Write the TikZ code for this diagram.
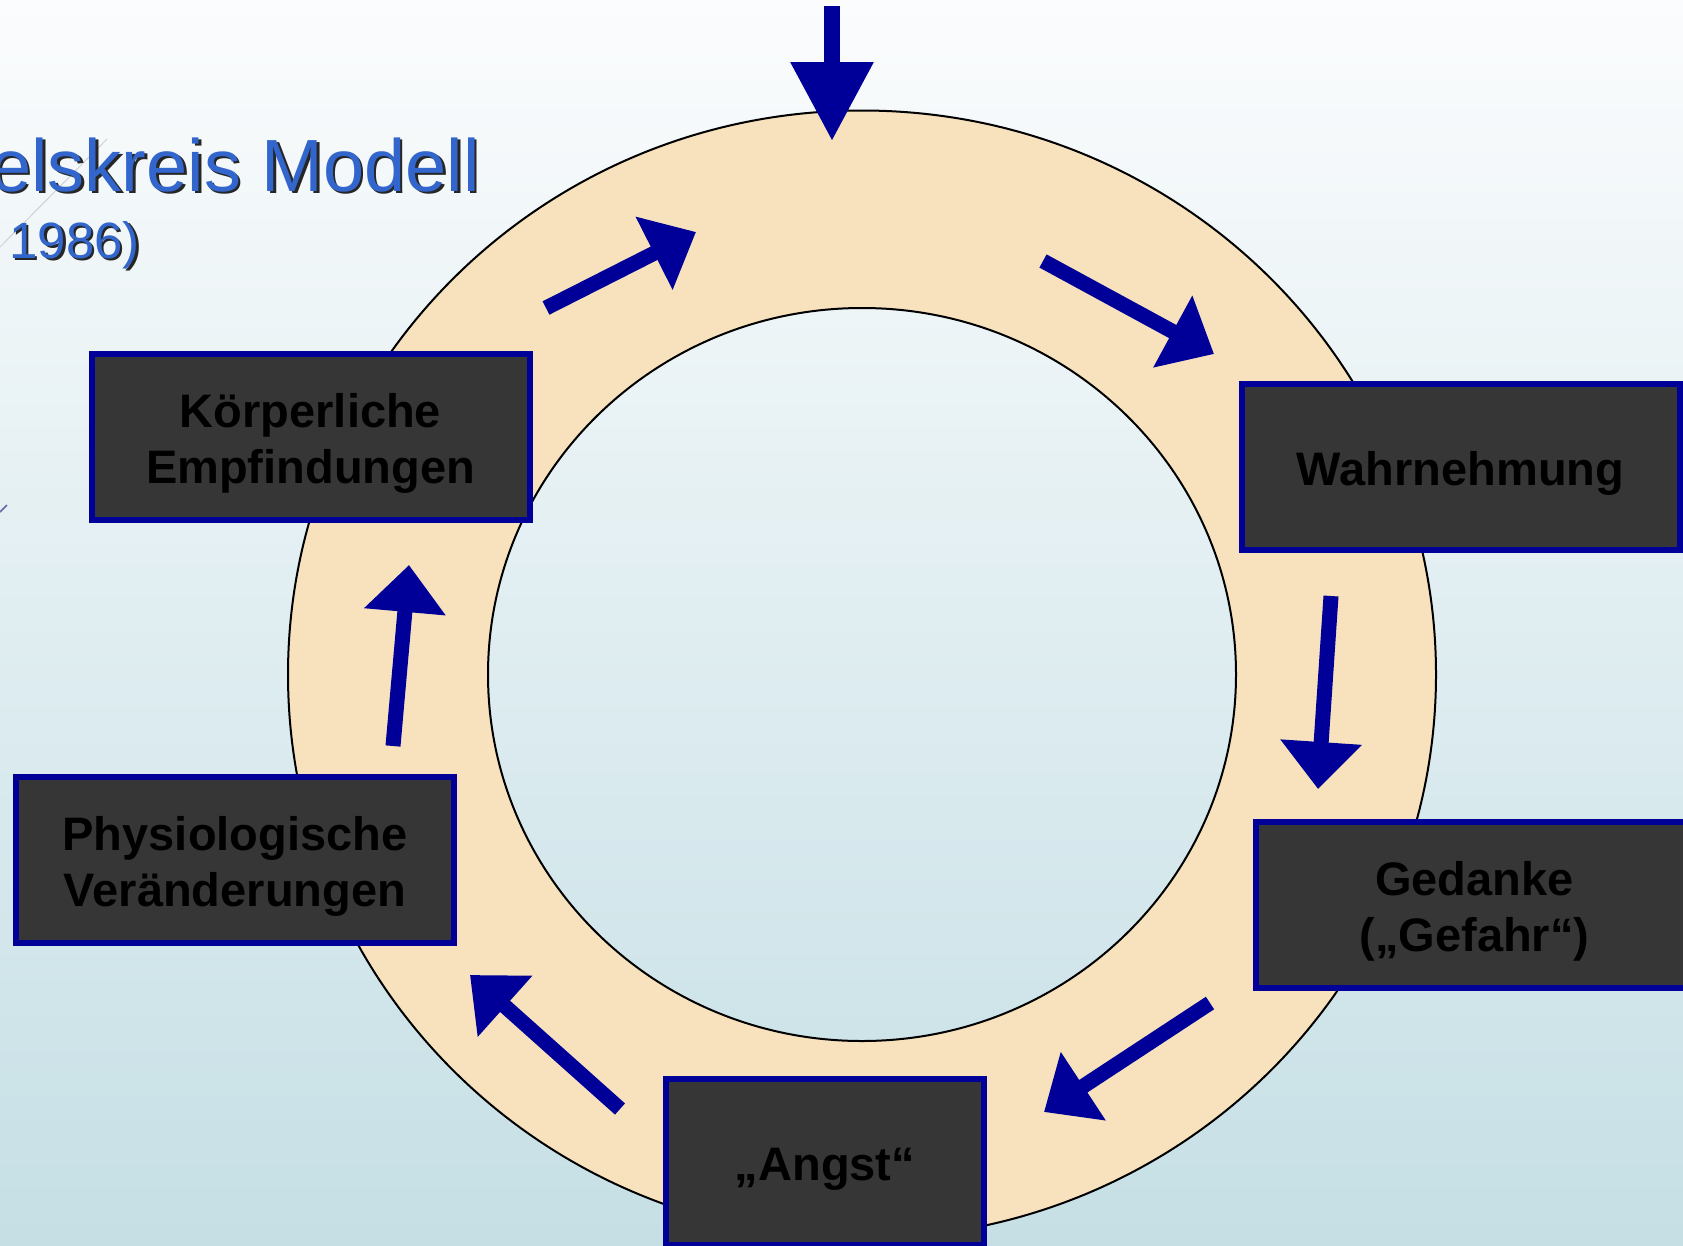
\documentclass[tikz,border=0pt]{standalone}
\usepackage{fontspec}
\setmainfont{Liberation Sans}
\usetikzlibrary{arrows.meta}

\definecolor{kreisblau}{HTML}{000099}
\definecolor{titelblau}{HTML}{3366CC}
\definecolor{boxgrau}{HTML}{363636}
\definecolor{ringbeige}{HTML}{F8E2BE}
\definecolor{himmeloben}{HTML}{FBFCFD}
\definecolor{himmelunten}{HTML}{C5DFE5}

\newcommand{\hoch}{\rule{0pt}{47pt}}

\begin{document}
\begin{tikzpicture}[x=1pt, y=-1pt]
        \tikzstyle{kreis_box}   = [shape = rectangle, draw = kreisblau, fill = boxgrau, line width = 6pt,
                                   minimum width = 438pt, minimum height = 166pt, inner sep = 0pt,
                                   align = center, font = \bfseries\fontsize{47}{56}\selectfont]
        \tikzstyle{kreis_pfeil} = [color = kreisblau, line width = 15pt, -{Triangle[length=47pt, width=79pt]}]
        \tikzstyle{titel}       = [anchor = base east, inner sep = 0pt, text = titelblau]

        \useasboundingbox (0, 0) rectangle (1683, 1245);
        \clip (0, 0) rectangle (1683, 1245);

        % hintergrund
        \shade[top color = himmeloben, bottom color = himmelunten] (0, 0) rectangle (1683, 1245);
        \draw[black!18, line width = 1pt] (0, 247) -- (107, 139);
        \draw[black!55!blue!60, line width = 1.5pt] (0, 512) -- (7, 505);

        % titel
        \node[titel, text = black!85, font = \fontsize{74}{80}\selectfont] at (482.5, 193.5) (t1s) {elskreis Modell};
        \node[titel, font = \fontsize{74}{80}\selectfont]                 at (480, 191)     (t1)  {elskreis Modell};
        \node[titel, text = black!85, font = \fontsize{51}{56}\selectfont] at (142.5, 260.5) (t2s) {1986)};
        \node[titel, font = \fontsize{51}{56}\selectfont]                 at (140, 258)     (t2)  {1986)};

        % ring
        \fill[ringbeige, even odd rule]
          (862, 674.5) ellipse [x radius = 574, y radius = 564]
          (862, 674.5) ellipse [x radius = 374, y radius = 366.5];
        \draw[line width = 2pt] (862, 674.5) ellipse [x radius = 574, y radius = 564];
        \draw[line width = 2pt] (862, 674.5) ellipse [x radius = 374, y radius = 366.5];

        % kaesten
        \node[kreis_box] at (310.5,  436.5) (koerper)  {\hoch Körperliche\\Empfindungen};
        \node[kreis_box] at (1460.5, 467)   (wahrn)    {\hoch Wahrnehmung};
        \node[kreis_box] at (1474.5, 904.5) (gedanke)  {\hoch Gedanke\\(„Gefahr“)};
        \node[kreis_box, minimum width = 318pt] at (825, 1161.5) (angst) {\hoch „Angst“};
        \node[kreis_box] at (235,    859.5) (physio)   {\hoch Physiologische\\Veränderungen};

        % pfeile
        \coordinate (p0a) at (832, 6);     \coordinate (p0b) at (832, 141);
        \coordinate (p1a) at (546, 308);   \coordinate (p1b) at (696, 232);
        \coordinate (p2a) at (1043, 261);  \coordinate (p2b) at (1214, 354);
        \coordinate (p3a) at (1331, 596);  \coordinate (p3b) at (1318, 789);
        \coordinate (p4a) at (1210, 1003); \coordinate (p4b) at (1044, 1112);
        \coordinate (p5a) at (620, 1109);  \coordinate (p5b) at (470, 975);
        \coordinate (p6a) at (393, 746);   \coordinate (p6b) at (409, 565);

        \draw[color = kreisblau, line width = 16pt, -{Triangle[length=79pt, width=79pt]}] (p0a) -- (p0b);

        \draw[kreis_pfeil] (p1a) -- (p1b);
        \draw[kreis_pfeil] (p2a) -- (p2b);
        \draw[kreis_pfeil] (p3a) -- (p3b);
        \draw[kreis_pfeil] (p4a) -- (p4b);
        \draw[kreis_pfeil] (p5a) -- (p5b);
        \draw[kreis_pfeil] (p6a) -- (p6b);
      \end{tikzpicture}
\end{document}
